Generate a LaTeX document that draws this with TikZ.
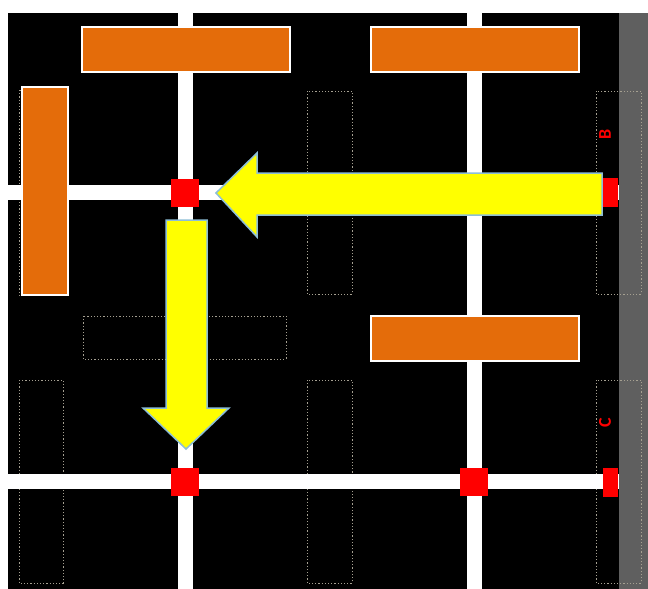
\documentclass[tikz,border=0pt]{standalone}
\usepackage{fontspec}
\setmainfont{Carlito}
\usetikzlibrary{positioning}
\definecolor{blockorange}{HTML}{E46C0A}
\definecolor{arrowblue}{RGB}{140,190,215}
\definecolor{arrowyellow}{RGB}{255,255,0}
\definecolor{stopred}{RGB}{255,0,0}
\definecolor{zonegray}{RGB}{165,160,145}
\definecolor{stripgray}{HTML}{5F5F5F}

\begin{document}
\begin{tikzpicture}[
  x=1pt, y=-1pt,
  road/.style={white, line width=15pt},
  block/.style={rectangle, draw=white, line width=1.5pt, fill=blockorange, inner sep=0pt},
  stop/.style={rectangle, fill=stopred, minimum size=28pt, inner sep=0pt},
  zone/.style={draw=zonegray, dash pattern=on 1.2pt off 2pt, line width=1pt},
  bigarrow/.style={fill=arrowyellow, draw=arrowblue, line width=1.5pt, line join=miter},
  tag/.style={text=stopred, font=\fontsize{18}{18}\selectfont\bfseries, rotate=90, inner sep=0pt}]
\useasboundingbox (0,0) rectangle (648,589);
% background
\fill[white] (0,0) rectangle (648,589);
\fill[black] (8,13) rectangle (619,589);
\fill[stripgray] (619,13) rectangle (648,589);
% dotted zones
\draw[zone] (19,90) rectangle (63,295);
\draw[zone] (307,91) rectangle (352,294);
\draw[zone] (596,91) rectangle (641,294);
\draw[zone] (83,316) rectangle (286,359);
\draw[zone] (19,380) rectangle (63,583);
\draw[zone] (307,380) rectangle (352,583);
\draw[zone] (596,380) rectangle (641,583);
% roads
\draw[road] (185,13) -- (185,589);
\draw[road] (474,13) -- (474,589);
\draw[road] (8,192.5) -- (619,192.5);
\draw[road] (8,481.5) -- (619,481.5);
% blocks
\node[block, minimum width=208pt, minimum height=45pt] (blockNW) at (186,49.5) {};
\node[block, minimum width=208pt, minimum height=45pt] (blockNE) at (475,49.5) {};
\node[block, minimum width=46pt, minimum height=208pt] (blockW) at (45,191) {};
\node[block, minimum width=208pt, minimum height=45pt] (blockE) at (475,338.5) {};
% stops
\node[stop] (stopNW) at (185,192.5) {};
\node[stop] (stopSW) at (185,481.5) {};
\node[stop] (stopS) at (474,481.5) {};
\node[stop, minimum width=15pt, minimum height=29pt] (stopB) at (610.5,192.5) {};
\node[stop, minimum width=15pt, minimum height=29pt] (stopC) at (610.5,482.5) {};
% arrows
\draw[bigarrow] (602,173) -- (257,173) -- (257,153) -- (216,193)
  -- (257,237) -- (257,215) -- (602,215) -- cycle;
\draw[bigarrow] (166,220) -- (207,220) -- (207,408) -- (229,408)
  -- (186,449) -- (143,408) -- (166,408) -- cycle;
% labels
\node[tag] (tagB) at (605,134) {B};
\node[tag] (tagC) at (605,423) {C};
\end{tikzpicture}
\end{document}
